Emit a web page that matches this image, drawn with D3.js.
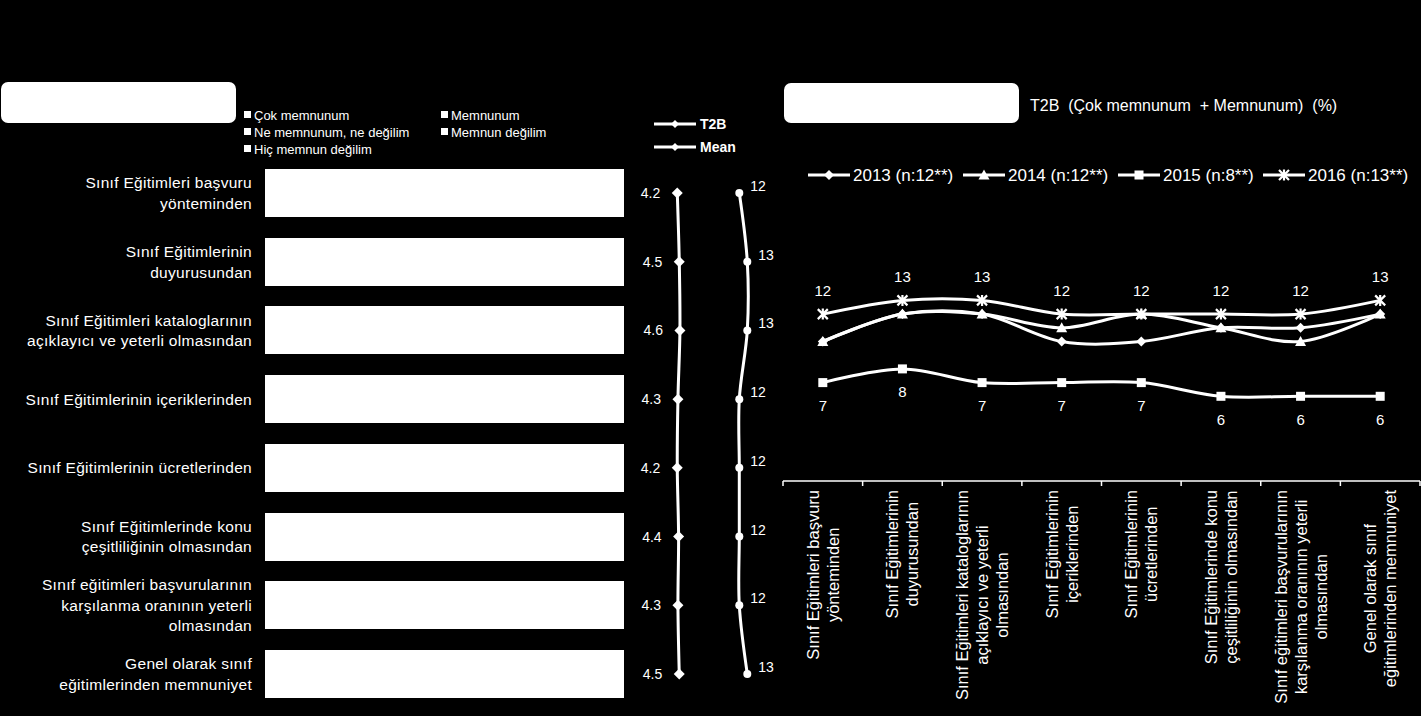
<!DOCTYPE html>
<html>
<head>
<meta charset="utf-8">
<script src="https://cdn.jsdelivr.net/npm/d3@7"></script>
<style>
html,body{margin:0;padding:0;background:#000;}
svg{display:block;font-family:"Liberation Sans",Arial,sans-serif;}
</style>
</head>
<body>
<svg id="chart" width="1421" height="716"></svg>
<script>
// ---------------- DATA ----------------
const leftCategories = [
  ["Sınıf Eğitimleri başvuru", "yönteminden"],
  ["Sınıf Eğitimlerinin", "duyurusundan"],
  ["Sınıf Eğitimleri kataloglarının", "açıklayıcı ve yeterli olmasından"],
  ["Sınıf Eğitimlerinin içeriklerinden"],
  ["Sınıf Eğitimlerinin ücretlerinden"],
  ["Sınıf Eğitimlerinde konu", "çeşitliliğinin olmasından"],
  ["Sınıf eğitimleri başvurularının", "karşılanma oranının yeterli", "olmasından"],
  ["Genel olarak sınıf", "eğitimlerinden memnuniyet"]
];
const rightCategories = [
  ["Sınıf Eğitimleri başvuru", "yönteminden"],
  ["Sınıf Eğitimlerinin", "duyurusundan"],
  ["Sınıf Eğitimleri kataloglarının", "açıklayıcı ve yeterli", "olmasından"],
  ["Sınıf Eğitimlerinin", "içeriklerinden"],
  ["Sınıf Eğitimlerinin", "ücretlerinden"],
  ["Sınıf Eğitimlerinde konu", "çeşitliliğinin olmasından"],
  ["Sınıf eğitimleri başvurularının", "karşılanma oranının yeterli", "olmasından"],
  ["Genel olarak sınıf", "eğitimlerinden memnuniyet"]
];
const responseNames = ["Çok memnunum", "Memnunum", "Ne memnunum, ne değilim", "Memnun değilim", "Hiç memnun değilim"];
// respondent counts per category (2016, n=13)
const cokMemnunum   = [4, 7, 8, 5, 4, 6, 5, 7];
const memnunum      = [8, 6, 5, 7, 8, 6, 7, 6];
const neMemnunum    = [1, 0, 0, 1, 1, 1, 1, 0];
const memnunDegilim = [0, 0, 0, 0, 0, 0, 0, 0];
const hicMemnunDegilim = [0, 0, 0, 0, 0, 0, 0, 0];

const meanValues = [4.2, 4.5, 4.6, 4.3, 4.2, 4.4, 4.3, 4.5];
const t2bValues  = [12, 13, 13, 12, 12, 12, 12, 13];

const seriesNames = ["2013 (n:12**)", "2014 (n:12**)", "2015 (n:8**)", "2016 (n:13**)"];
const values2013 = [10, 12, 12, 10, 10, 11, 11, 12];
const values2014 = [10, 12, 12, 11, 12, 11, 10, 12];
const values2015 = [7, 8, 7, 7, 7, 6, 6, 6];
const values2016 = [12, 13, 13, 12, 12, 12, 12, 13];

const rightTitle = "T2B  (Çok memnunum  + Memnunum)  (%)";

// ---------------- CHART ----------------
const svg = d3.select("#chart");
const W = 1421, H = 716;
svg.append("rect").attr("width", W).attr("height", H).attr("fill", "#000");

// header boxes
svg.append("rect").attr("x", 1).attr("y", 82).attr("width", 235).attr("height", 41).attr("rx", 7).attr("fill", "#fff");
svg.append("rect").attr("x", 784).attr("y", 83).attr("width", 235).attr("height", 40).attr("rx", 7).attr("fill", "#fff");

svg.append("text").attr("x", 1030).attr("y", 111).attr("fill", "#fff")
  .style("font-size", "16px").style("white-space", "pre").text(rightTitle);

// ---------- LEFT PANEL ----------
const leftLegend = svg.append("g");
responseNames.forEach((name, i) => {
  const col = i % 2, row = Math.floor(i / 2);
  const x = 244 + col * 197, y = 115 + row * 17;
  leftLegend.append("rect").attr("x", x).attr("y", y - 4).attr("width", 7).attr("height", 7).attr("fill", "#fff");
  leftLegend.append("text").attr("x", x + 10).attr("y", y + 4.5).attr("fill", "#fff")
    .style("font-size", "13px").text(name);
});

const idx = d3.range(leftCategories.length);
const yBand = d3.scaleBand().domain(idx).range([158.7, 708.3]).paddingInner(0.3).paddingOuter(0.15);
const xPct = d3.scaleLinear().domain([0, 1]).range([265, 624]);

const keys = ["cok", "mem", "ne", "deg", "hic"];
const rows = idx.map(i => ({ i, cok: cokMemnunum[i], mem: memnunum[i], ne: neMemnunum[i], deg: memnunDegilim[i], hic: hicMemnunDegilim[i] }));
const stacked = d3.stack().keys(keys).offset(d3.stackOffsetExpand)(rows);

svg.append("g").attr("shape-rendering", "crispEdges").selectAll("g").data(stacked).join("g")
  .selectAll("rect").data(d => d).join("rect")
  .attr("x", d => Math.round(xPct(d[0])))
  .attr("width", d => Math.max(0, Math.round(xPct(d[1])) - Math.round(xPct(d[0]))))
  .attr("y", d => Math.round(yBand(d.data.i)))
  .attr("height", Math.round(yBand.bandwidth()))
  .attr("fill", "#fff");

// category labels
const yc = i => yBand(i) + yBand.bandwidth() / 2;
leftCategories.forEach((lines, i) => {
  const n = lines.length;
  lines.forEach((ln, k) => {
    svg.append("text").attr("x", 252).attr("y", yc(i) + (k - (n - 1) / 2) * 20.5 + 5.5)
      .attr("text-anchor", "end").attr("fill", "#fff")
      .style("font-size", "15.5px").style("letter-spacing", "0.3px").text(ln);
  });
});

// mean & T2B lines
const xMean = d3.scaleLinear().domain([0, 5]).range([649.3, 682.6]);
const xT2B = d3.scaleLinear().domain([0, 15]).range([643.3, 763.3]);
const curve = d3.curveCardinal.tension(0);
const diamond = r => `M0,${-r}L${r},0L0,${r}L${-r},0Z`;

const meanLine = d3.line().x(d => xMean(d)).y((d, i) => yc(i)).curve(curve);
svg.append("path").attr("d", meanLine(meanValues)).attr("fill", "none").attr("stroke", "#fff").attr("stroke-width", 3);
const t2bLine = d3.line().x(d => xT2B(d)).y((d, i) => yc(i)).curve(curve);
svg.append("path").attr("d", t2bLine(t2bValues)).attr("fill", "none").attr("stroke", "#fff").attr("stroke-width", 3);

meanValues.forEach((v, i) => {
  svg.append("path").attr("d", diamond(5.5)).attr("transform", `translate(${xMean(v)},${yc(i)})`).attr("fill", "#fff");
  svg.append("text").attr("x", xMean(v) - 17).attr("y", yc(i) + 5).attr("text-anchor", "end")
    .attr("fill", "#fff").style("font-size", "14px").text(v.toFixed(1));
});
t2bValues.forEach((v, i) => {
  svg.append("circle").attr("cx", xT2B(v)).attr("cy", yc(i)).attr("r", 4).attr("fill", "#fff");
  svg.append("text").attr("x", xT2B(v) + 11).attr("y", yc(i) - 2).attr("fill", "#fff")
    .style("font-size", "14px").text(v);
});

// T2B / Mean legend
[["T2B", 124], ["Mean", 147]].forEach(([name, y]) => {
  svg.append("line").attr("x1", 654).attr("x2", 696).attr("y1", y).attr("y2", y).attr("stroke", "#fff").attr("stroke-width", 3);
  svg.append("path").attr("d", diamond(4)).attr("transform", `translate(675,${y})`).attr("fill", "#fff");
  svg.append("text").attr("x", 700).attr("y", y + 5).attr("fill", "#fff")
    .style("font-size", "14px").style("font-weight", "bold").text(name);
});

// ---------- RIGHT PANEL ----------
const xR = d3.scaleBand().domain(idx).range([783, 1420]).padding(0);
const cx = i => xR(i) + xR.bandwidth() / 2;
const yR = d3.scaleLinear().domain([0, 20]).range([478.5, 204.5]);

const markerFns = [
  g => g.append("path").attr("d", diamond(5)).attr("fill", "#fff"),
  g => g.append("path").attr("d", "M0,-5.5L5.5,4.5L-5.5,4.5Z").attr("fill", "#fff"),
  g => g.append("rect").attr("x", -4.5).attr("y", -4.5).attr("width", 9).attr("height", 9).attr("fill", "#fff"),
  g => g.append("path").attr("d", "M-5,-5L5,5M5,-5L-5,5M0,-5.5L0,5.5").attr("stroke", "#fff").attr("stroke-width", 2.2).attr("fill", "none")
];
const allSeries = [values2013, values2014, values2015, values2016];
const lineR = d3.line().x((d, i) => cx(i)).y(d => yR(d)).curve(curve);

allSeries.forEach((vals, s) => {
  svg.append("path").attr("d", lineR(vals)).attr("fill", "none").attr("stroke", "#fff").attr("stroke-width", 3);
});
allSeries.forEach((vals, s) => {
  vals.forEach((v, i) => {
    const g = svg.append("g").attr("transform", `translate(${cx(i)},${yR(v)})`);
    markerFns[s](g);
  });
});
// data labels: 2016 above, 2015 below
values2016.forEach((v, i) => {
  svg.append("text").attr("x", cx(i)).attr("y", yR(v) - 24 + 5.5).attr("text-anchor", "middle")
    .attr("fill", "#fff").style("font-size", "15px").text(v);
});
values2015.forEach((v, i) => {
  svg.append("text").attr("x", cx(i)).attr("y", yR(v) + 23 + 5.5).attr("text-anchor", "middle")
    .attr("fill", "#fff").style("font-size", "15px").text(v);
});

// right legend
const legX = [808, 963, 1118, 1263];
seriesNames.forEach((name, s) => {
  const x = legX[s], y = 175;
  svg.append("line").attr("x1", x).attr("x2", x + 42).attr("y1", y).attr("y2", y).attr("stroke", "#fff").attr("stroke-width", 3);
  const g = svg.append("g").attr("transform", `translate(${x + 21},${y})`);
  markerFns[s](g);
  svg.append("text").attr("x", x + 45).attr("y", y + 6).attr("fill", "#fff")
    .style("font-size", "17px").text(name);
});

// x axis
const axisY = 481;
svg.append("line").attr("x1", 783).attr("x2", 1420).attr("y1", axisY).attr("y2", axisY).attr("stroke", "#fff").attr("stroke-width", 1.5);
idx.concat([idx.length]).forEach(i => {
  const x = i < idx.length ? xR(i) : xR(idx.length - 1) + xR.bandwidth();
  svg.append("line").attr("x1", x).attr("x2", x).attr("y1", axisY).attr("y2", axisY + 5).attr("stroke", "#fff").attr("stroke-width", 1.5);
});
rightCategories.forEach((lines, i) => {
  const g = svg.append("g").attr("transform", `translate(${cx(i)},${axisY + 9}) rotate(-90)`);
  const n = lines.length;
  const texts = lines.map((ln, k) => g.append("text")
    .attr("y", (k - (n - 1) / 2) * 20 + 6)
    .attr("text-anchor", "middle").attr("fill", "#fff")
    .style("font-size", "16.5px").text(ln));
  const maxLen = d3.max(texts, t => t.node().getComputedTextLength());
  texts.forEach(t => t.attr("x", -maxLen / 2));
});
</script>
</body>
</html>
